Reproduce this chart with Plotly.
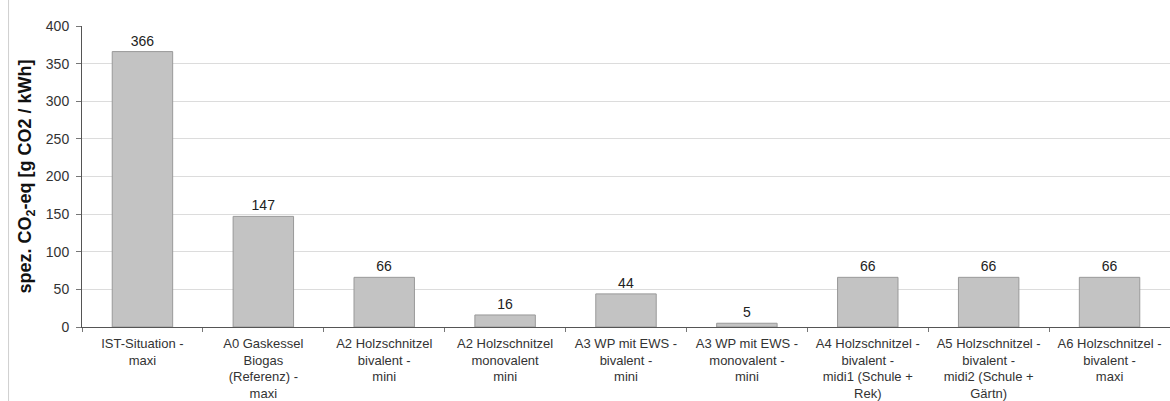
import plotly.graph_objects as go

categories = [
    "IST-Situation -<br>maxi",
    "A0 Gaskessel<br>Biogas<br>(Referenz) -<br>maxi",
    "A2 Holzschnitzel<br>bivalent -<br>mini",
    "A2 Holzschnitzel<br>monovalent<br>mini",
    "A3 WP mit EWS -<br>bivalent -<br>mini",
    "A3 WP mit EWS -<br>monovalent -<br>mini",
    "A4 Holzschnitzel -<br>bivalent -<br>midi1 (Schule +<br>Rek)",
    "A5 Holzschnitzel -<br>bivalent -<br>midi2 (Schule +<br>Gärtn)",
    "A6 Holzschnitzel -<br>bivalent -<br>maxi",
]
values = [366, 147, 66, 16, 44, 5, 66, 66, 66]
y_ticks = [0, 50, 100, 150, 200, 250, 300, 350, 400]

font_family = "Liberation Sans, Arial, sans-serif"

fig = go.Figure(
    go.Bar(
        x=categories,
        y=values,
        width=0.5,
        marker=dict(color="#c3c3c3", line=dict(color="#999999", width=1)),
        text=[str(v) for v in values],
        textposition="outside",
        cliponaxis=False,
        textfont=dict(family=font_family, size=14, color="#222222"),
    )
)

fig.update_layout(
    width=1170,
    height=401,
    margin=dict(l=82, r=0, t=26, b=74),
    paper_bgcolor="white",
    plot_bgcolor="white",
    showlegend=False,
    font=dict(family=font_family, size=13, color="#333333"),
    xaxis=dict(
        showline=True,
        linecolor="#555555",
        linewidth=1,
        ticks="outside",
        tickson="boundaries",
        ticklen=4,
        tickcolor="#777777",
        ticklabelstandoff=4,
        tickfont=dict(size=13, color="#333333"),
        showgrid=False,
        tickangle=0,
    ),
    yaxis=dict(
        range=[0, 400],
        tickvals=y_ticks,
        showline=True,
        linecolor="#555555",
        linewidth=1,
        ticks="outside",
        ticklen=5,
        tickcolor="#777777",
        ticklabelstandoff=4,
        showgrid=True,
        gridcolor="#dcdcdc",
        gridwidth=1,
        zeroline=False,
        tickfont=dict(size=14, color="#333333"),
        title=dict(
            text="<b>spez. CO<sub>2</sub>-eq [g CO2 / kWh]</b>",
            font=dict(size=18, color="#111111"),
            standoff=9,
        ),
    ),
)

# thin frame line along the left edge of the figure
fig.add_shape(
    type="line", xref="paper", yref="paper",
    x0=-0.0675, x1=-0.0675, y0=-0.26, y1=1.1,
    line=dict(color="#cfcfcf", width=1),
)

fig.write_html("out.html")
